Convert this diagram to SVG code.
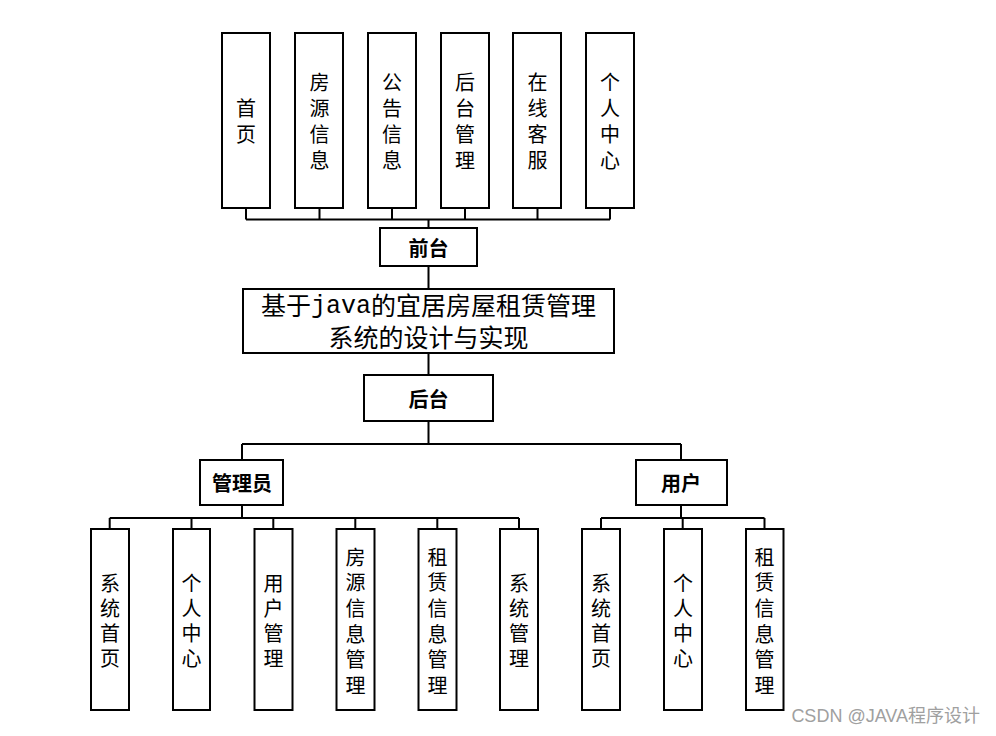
<svg xmlns="http://www.w3.org/2000/svg" width="996" height="736" viewBox="0 0 996 736">
<style>
.box{fill:#fff;stroke:#000;stroke-width:2}
.ln{fill:none;stroke:#000;stroke-width:2}
.v{font-family:"Noto Sans CJK SC","Noto Sans",sans-serif;font-size:20px;fill:#000;text-anchor:middle;writing-mode:vertical-rl;glyph-orientation-vertical:0}
.vt{letter-spacing:6px}
.vb{letter-spacing:5px}
.vb6{letter-spacing:5.6px}
.b{font-family:"Noto Sans CJK SC","Noto Sans",sans-serif;font-size:20px;font-weight:bold;fill:#000;text-anchor:middle;dominant-baseline:central}
.t{font-family:"Liberation Serif","Noto Sans CJK SC",serif;font-size:25px;fill:#000;text-anchor:middle;dominant-baseline:central}
.mono{font-family:"Liberation Mono",monospace}
.wm{font-family:"Liberation Sans","Noto Sans CJK SC",sans-serif;font-size:18px;fill:#a0a0a0;text-anchor:end;dominant-baseline:central}
</style>
<rect width="996" height="736" fill="#fff"/>
<g id="connectors" class="ln">
<path d="M246,208V219.5M319.5,208V219.5M392,208V219.5M465,208V219.5M537.5,208V219.5M610,208V219.5M246,219.5H610M428.5,219.5V228"/>
<path d="M428.5,266V289M428.5,353V375M428.5,421V444M242,444H681M242,444V460M681,444V460"/>
<path d="M242,505V518M109.7,518H519M109.7,518V529M191.5,518V529M273.3,518V529M355.3,518V529M437.3,518V529M519,518V529"/>
<path d="M681,505V518M601,518H764.5M601,518V529M682.7,518V529M764.5,518V529"/>
</g>
<g id="n-home"><rect class="box" x="222" y="33" width="48" height="175"/><text class="v vt" x="246" y="124.5">首页</text></g>
<g id="n-house"><rect class="box" x="295" y="33" width="48" height="175"/><text class="v vt" x="319.5" y="124">房源信息</text></g>
<g id="n-notice"><rect class="box" x="368" y="33" width="48" height="175"/><text class="v vt" x="392" y="124">公告信息</text></g>
<g id="n-admin-link"><rect class="box" x="441" y="33" width="48" height="175"/><text class="v vt" x="465" y="124">后台管理</text></g>
<g id="n-service"><rect class="box" x="513" y="33" width="48" height="175"/><text class="v vt" x="537.5" y="124">在线客服</text></g>
<g id="n-center"><rect class="box" x="586" y="33" width="48" height="175"/><text class="v vt" x="610" y="124">个人中心</text></g>
<g id="n-front"><rect class="box" x="380" y="228" width="97" height="38"/><text class="b" x="428.5" y="247">前台</text></g>
<g id="n-main"><rect class="box" x="243" y="289" width="371" height="64"/><text class="t" x="428.5" y="306">基于<tspan class="mono">java</tspan>的宜居房屋租赁管理</text><text class="t" x="428.5" y="338">系统的设计与实现</text></g>
<g id="n-back"><rect class="box" x="364" y="375" width="129" height="46"/><text class="b" x="428.5" y="398">后台</text></g>
<g id="n-admin"><rect class="box" x="200" y="460" width="83" height="45"/><text class="b" x="242" y="482">管理员</text></g>
<g id="n-user"><rect class="box" x="636" y="460" width="91" height="45"/><text class="b" x="681" y="482">用户</text></g>
<g id="a1"><rect class="box" x="91" y="529" width="38" height="181"/><text class="v vb" x="110" y="623">系统首页</text></g>
<g id="a2"><rect class="box" x="173" y="529" width="37" height="181"/><text class="v vb" x="191.5" y="623">个人中心</text></g>
<g id="a3"><rect class="box" x="254.5" y="529" width="38" height="181"/><text class="v vb" x="273.5" y="623">用户管理</text></g>
<g id="a4"><rect class="box" x="336.5" y="529" width="38" height="181"/><text class="v vb6" x="355.5" y="624">房源信息管理</text></g>
<g id="a5"><rect class="box" x="418.5" y="529" width="38" height="181"/><text class="v vb6" x="437.5" y="624">租赁信息管理</text></g>
<g id="a6"><rect class="box" x="500" y="529" width="38" height="181"/><text class="v vb" x="519" y="623">系统管理</text></g>
<g id="u1"><rect class="box" x="582" y="529" width="38" height="181"/><text class="v vb" x="601" y="623">系统首页</text></g>
<g id="u2"><rect class="box" x="664" y="529" width="38" height="181"/><text class="v vb" x="683" y="623">个人中心</text></g>
<g id="u3"><rect class="box" x="746" y="529" width="37.5" height="181"/><text class="v vb6" x="764.5" y="624">租赁信息管理</text></g>
<text class="wm" x="980" y="716">CSDN @JAVA程序设计</text>
</svg>
